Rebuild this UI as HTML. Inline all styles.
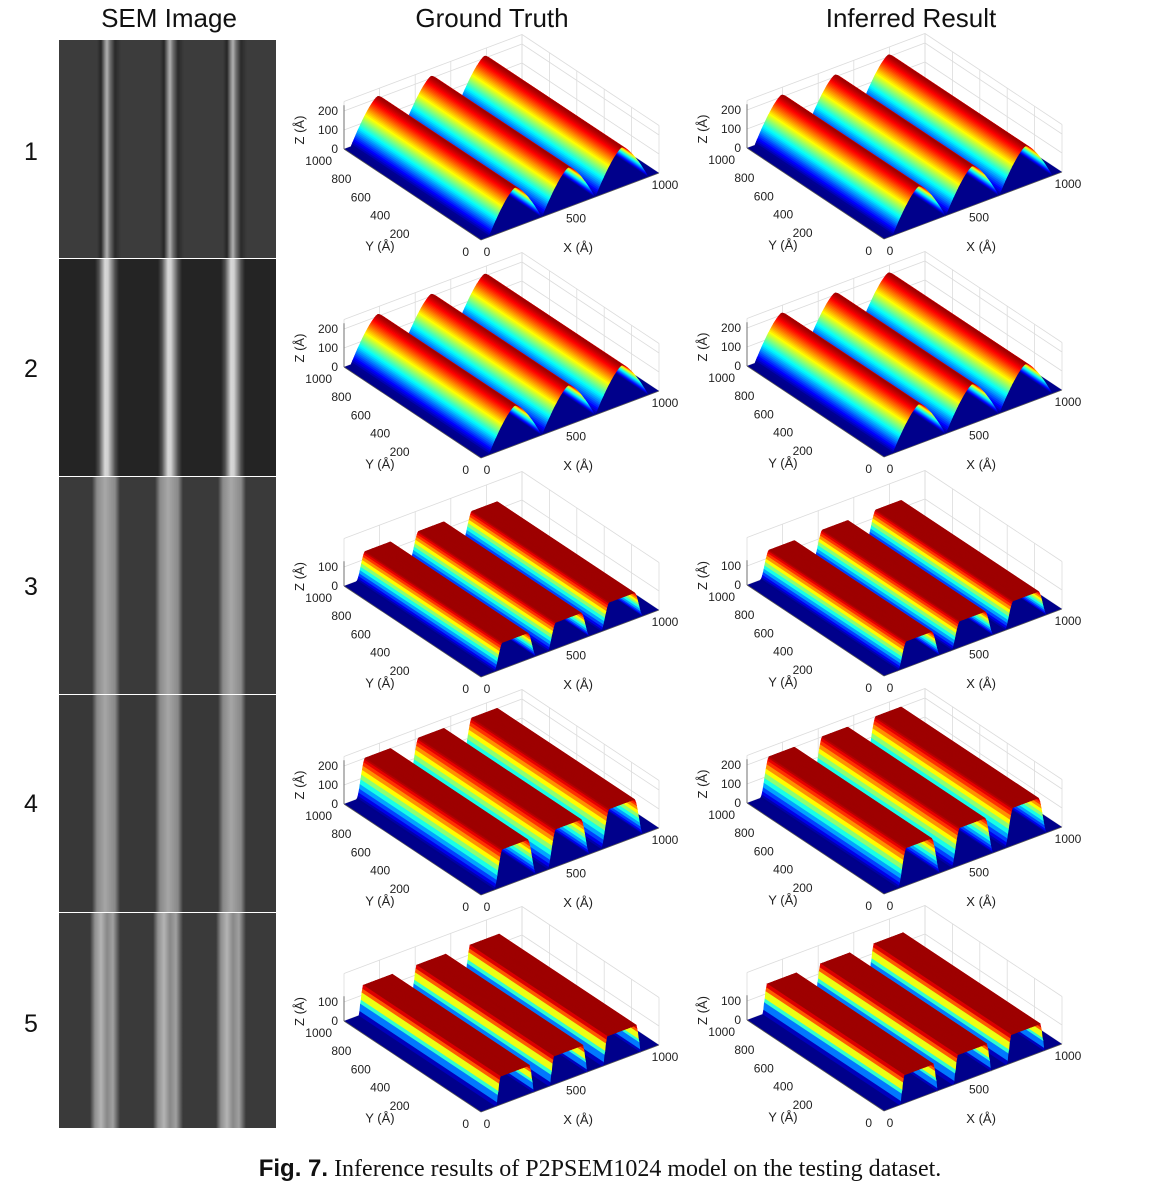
<!DOCTYPE html>
<html><head><meta charset="utf-8">
<style>
body{margin:0;background:#fff;width:1164px;height:1200px;overflow:hidden;position:relative;font-family:"Liberation Sans",sans-serif}
.hdr{position:absolute;top:3px;font-size:26px;color:#111;transform:translateX(-50%);white-space:nowrap}
.rown{position:absolute;left:24px;font-size:25px;color:#111}
.sem{position:absolute;left:59px;width:217px}
#cap{position:absolute;top:1155px;left:0;width:1200px;text-align:center;font-size:24px;font-family:"Liberation Serif",serif;color:#111}
#cap b{font-family:"Liberation Sans",sans-serif}
svg{position:absolute;left:0;top:0}
</style></head><body>
<div class="hdr" style="left:169px">SEM Image</div>
<div class="hdr" style="left:492px">Ground Truth</div>
<div class="hdr" style="left:911px">Inferred Result</div>
<div class="rown" style="top:138px">1</div>
<div class="rown" style="top:355px">2</div>
<div class="rown" style="top:573px">3</div>
<div class="rown" style="top:790px">4</div>
<div class="rown" style="top:1010px">5</div>
<div class="sem" style="top:40px;height:218px;background:linear-gradient(90deg,#3c3c3c 0,#3c3c3c 38px,#262626 42px,#8a8a8a 46px,#b0b0b0 48px,#707070 51px,#2a2a2a 56px,#3c3c3c 62px,#3c3c3c 101px,#262626 105px,#8a8a8a 109px,#b0b0b0 111px,#707070 114px,#2a2a2a 119px,#3c3c3c 125px,#3c3c3c 164px,#262626 168px,#8a8a8a 172px,#b0b0b0 174px,#707070 177px,#2a2a2a 182px,#3c3c3c 188px)"></div>
<div class="sem" style="top:259px;height:217px;background:linear-gradient(90deg,#242424 0,#242424 36px,#505050 40px,#d8d8d8 46px,#d0d0d0 49px,#505050 56px,#242424 60px,#242424 99px,#505050 103px,#d8d8d8 109px,#d0d0d0 112px,#505050 119px,#242424 123px,#242424 162px,#505050 166px,#d8d8d8 172px,#d0d0d0 175px,#505050 182px,#242424 186px)"></div>
<div class="sem" style="top:477px;height:217px;background:linear-gradient(90deg,#3a3a3a 0,#3a3a3a 33px,#8a8a8a 38px,#a8a8a8 46px,#8a8a8a 56px,#3a3a3a 61px,#3a3a3a 96px,#8a8a8a 101px,#a8a8a8 109px,#8a8a8a 119px,#3a3a3a 124px,#3a3a3a 159px,#8a8a8a 164px,#a8a8a8 172px,#8a8a8a 182px,#3a3a3a 187px)"></div>
<div class="sem" style="top:695px;height:217px;background:linear-gradient(90deg,#383838 0,#383838 33px,#888 38px,#a6a6a6 46px,#888 56px,#383838 61px,#383838 96px,#888 101px,#a6a6a6 109px,#888 119px,#383838 124px,#383838 159px,#888 164px,#a6a6a6 172px,#888 182px,#383838 187px)"></div>
<div class="sem" style="top:913px;height:215px;background:linear-gradient(90deg,#3a3a3a 0,#3a3a3a 31px,#909090 36px,#b4b4b4 42px,#888 48px,#a0a0a0 54px,#3a3a3a 61px,#3a3a3a 94px,#909090 99px,#b4b4b4 105px,#888 111px,#a0a0a0 117px,#3a3a3a 124px,#3a3a3a 157px,#909090 162px,#b4b4b4 168px,#888 174px,#a0a0a0 180px,#3a3a3a 187px)"></div>
<svg id="plots" width="1164" height="1200" xmlns="http://www.w3.org/2000/svg"></svg>
<div id="cap"><b>Fig. 7.</b> Inference results of P2PSEM1024 model on the testing dataset.</div>
<script>
// data per row (Å)
const ridgeCentersGT = [190, 490, 790];
const ridgeCentersInf = [195, 495, 795];
const ridgeHeights = [210, 210, 140, 200, 150];
const ridgeHalfBase = [150, 150, 120, 120, 110];
const ridgeHalfTop = [0, 0, 70, 70, 80];
const zTicksRows = [[0,100,200],[0,100,200],[0,100],[0,100,200],[0,100]];
const xTicks = [0, 500, 1000];
const yTicks = [0, 200, 400, 600, 800, 1000];
const stepLevels = [0, 0, 0, 0, 8];

const svg = document.getElementById('plots');
const NS = 'http://www.w3.org/2000/svg';
const EX=[0.178,-0.067], EY=[-0.137,-0.091], EZ=-0.19;
function proj(o,x,y,z){return [o[0]+x*EX[0]+y*EY[0], o[1]+x*EX[1]+y*EY[1]+z*EZ];}
function jet(t){const c=v=>Math.round(255*Math.max(0,Math.min(1,v)));
  return `rgb(${c(1.5-Math.abs(4*t-3))},${c(1.5-Math.abs(4*t-2))},${c(1.5-Math.abs(4*t-1))})`;}
function el(tag,attrs,parent){const e=document.createElementNS(NS,tag);for(const k in attrs)e.setAttribute(k,attrs[k]);parent.appendChild(e);return e;}
function profile(r,c,x){
  const hb=ridgeHalfBase[r], ht=ridgeHalfTop[r], h=ridgeHeights[r];
  const d=Math.abs(x-c); if(d>=hb) return 0;
  let z;
  if(ht===0){const t=d/hb; z=h*(1-Math.pow(t,1.4));}
  else if(d<=ht) z=h; else {const t=(d-ht)/(hb-ht); z=h*(1-t*t*(3-2*t));}
  if(stepLevels[r]) z=Math.round(z/h*stepLevels[r])/stepLevels[r]*h;
  return z;
}
function plot(r,o,centers,name){
  const g=el('g',{},svg);
  
  
  const ztop=250, h=ridgeHeights[r];
  const P=(x,y,z)=>proj(o,x,y,z).map(v=>v.toFixed(1)).join(',');
  const gridC='#dcdcdc';
  for(const x of [0,200,400,600,800,1000]) el('line',{x1:proj(o,x,1000,0)[0],y1:proj(o,x,1000,0)[1],x2:proj(o,x,1000,ztop)[0],y2:proj(o,x,1000,ztop)[1],stroke:gridC,'stroke-width':0.8},g);
  for(const y of yTicks) el('line',{x1:proj(o,1000,y,0)[0],y1:proj(o,1000,y,0)[1],x2:proj(o,1000,y,ztop)[0],y2:proj(o,1000,y,ztop)[1],stroke:gridC,'stroke-width':0.8},g);
  for(const z of zTicksRows[r].concat([ztop])){
    el('polyline',{points:P(0,1000,z)+' '+P(1000,1000,z)+' '+P(1000,0,z),fill:'none',stroke:gridC,'stroke-width':0.8},g);
  }
  el('polygon',{points:[P(0,0,0),P(1000,0,0),P(1000,1000,0),P(0,1000,0)].join(' '),fill:'#00008b'},g);
  const quads=[];
  for(const c of centers){
    const hb=ridgeHalfBase[r];
    for(let x=c-hb;x<c+hb;x+=4){
      const z1=profile(r,c,x), z2=profile(r,c,x+4);
      if(z1<=0&&z2<=0) continue;
      quads.push({x:x+2,z1,z2,x1:x,x2:x+4});
    }
  }
  quads.sort((a,b)=>b.x-a.x);
  for(const q of quads){
    const col=jet(Math.min(1,((q.z1+q.z2)/2)/h*0.97));
    el('polygon',{points:[P(q.x1,0,q.z1),P(q.x2,0,q.z2),P(q.x2,1000,q.z2),P(q.x1,1000,q.z1)].join(' '),fill:col,stroke:col,'stroke-width':0.6},g);
  }
  const axC='#555';
  el('line',{x1:proj(o,0,0,0)[0],y1:proj(o,0,0,0)[1],x2:proj(o,1000,0,0)[0],y2:proj(o,1000,0,0)[1],stroke:axC,'stroke-width':0.8},g);
  el('line',{x1:proj(o,0,0,0)[0],y1:proj(o,0,0,0)[1],x2:proj(o,0,1000,0)[0],y2:proj(o,0,1000,0)[1],stroke:axC,'stroke-width':0.8},g);
  const zt=zTicksRows[r][zTicksRows[r].length-1]+30;
  el('line',{x1:proj(o,0,1000,0)[0],y1:proj(o,0,1000,0)[1],x2:proj(o,0,1000,zt)[0],y2:proj(o,0,1000,zt)[1],stroke:axC,'stroke-width':0.8},g);
  const txt=(x,y,s,anchor,extra)=>{const t=el('text',Object.assign({x,y,'font-size':12,fill:'#222','text-anchor':anchor,'font-family':'Liberation Sans, sans-serif'},extra||{}),g);t.textContent=s;return t;};
  for(const v of xTicks){const p=proj(o,v,0,0);const t=txt(p[0]+6,p[1]+16,String(v),'middle');}
  for(const v of yTicks){const p=proj(o,0,v,0);const sh=v===0?0:(1000-v)*0.04;const t=txt(p[0]-12-sh,p[1]+16,String(v),'end');}
  for(const v of zTicksRows[r]){const p=proj(o,0,1000,v);const t=txt(p[0]-6,p[1]+4,String(v),'end');}
  let p=proj(o,450,0,0);
  let t=txt(p[0]+17,p[1]+42,'X (Å)','middle',{'font-size':13});
  
  p=proj(o,0,300,0);
  t=txt(p[0]-60,p[1]+38,'Y (Å)','middle',{'font-size':13});
  
  p=proj(o,0,1000,zTicksRows[r].length>2?100:50);
  t=txt(p[0]-40,p[1],'Z (Å)','middle',{'font-size':13,transform:`rotate(-90 ${p[0]-40} ${p[1]})`});
  
}
const rowY=[240,458,677,895,1112];
for(let r=0;r<5;r++){
  plot(r,[481,rowY[r]],ridgeCentersGT,'ground-truth-plot-'+(r+1));
  plot(r,[884,rowY[r]-1],ridgeCentersInf,'inferred-result-plot-'+(r+1));
}
</script>
</body></html>
